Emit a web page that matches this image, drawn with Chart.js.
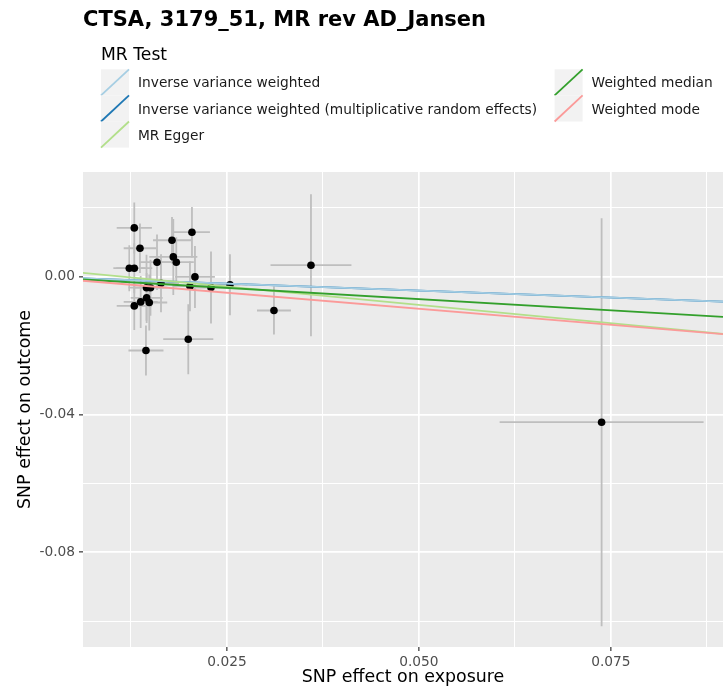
<!DOCTYPE html>
<html>
<head>
<meta charset="utf-8">
<script src="https://cdn.jsdelivr.net/npm/chart.js@4.4.0/dist/chart.umd.min.js"></script>
<style>
  html, body { margin: 0; padding: 0; background: #ffffff; }
  #wrap { width: 723px; height: 688px; position: relative; }
</style>
</head>
<body>
<div id="wrap"><canvas id="c" width="723" height="688"></canvas></div>
<script>
// Text
const plotTitle = 'CTSA, 3179_51, MR rev AD_Jansen';
const legendTitle = 'MR Test';
const xAxisTitle = 'SNP effect on exposure';
const yAxisTitle = 'SNP effect on outcome';

// Per-SNP effects and standard errors
const betaExposure = [0.01293, 0.01367, 0.01228, 0.01293, 0.01589, 0.01784, 0.01801, 0.01840, 0.02044, 0.02083,
                      0.01452, 0.01504, 0.01641, 0.02018, 0.02292, 0.02539, 0.01454, 0.01376, 0.01488, 0.01293,
                      0.01996, 0.01445, 0.03112, 0.03594, 0.07379];
const seExposure   = [0.00229, 0.00212, 0.00208, 0.00234, 0.00234, 0.00247, 0.00313, 0.00228, 0.00234, 0.00260,
                      0.00234, 0.00221, 0.00234, 0.00221, 0.00260, 0.00228, 0.00208, 0.00221, 0.00234, 0.00229,
                      0.00326, 0.00228, 0.00221, 0.00527, 0.01328];
const betaOutcome  = [0.01417, 0.00827, 0.00247, 0.00247, 0.00421, 0.01059, 0.00575, 0.00421, 0.01292, -0.00006,
                      -0.00319, -0.00319, -0.00189, -0.00276, -0.00313, -0.00232, -0.00615, -0.00731, -0.00749, -0.00848,
                      -0.01814, -0.02142, -0.00981, 0.00334, -0.04224];
const seOutcome    = [0.00740, 0.00717, 0.00668, 0.00726, 0.00804, 0.00676, 0.01103, 0.00726, 0.00734, 0.00900,
                      0.00958, 0.00813, 0.00842, 0.00726, 0.01045, 0.00885, 0.00726, 0.00755, 0.00813, 0.00697,
                      0.01016, 0.00726, 0.00697, 0.02061, 0.05922];

// MR method fits (outcome = intercept + slope * exposure)
const methodNames = ['Inverse variance weighted',
                     'Inverse variance weighted (multiplicative random effects)',
                     'MR Egger', 'Weighted median', 'Weighted mode'];
const methodColors = ['#A6CEE3', '#1F78B4', '#B2DF8A', '#33A02C', '#FB9A99'];
const methodIntercepts = [0, 0, 0.00244, 0, 0];
const methodSlopes = [-0.0804, -0.0804, -0.2123, -0.1302, -0.1863];
const methodDrawOrder = [3, 4, 2, 1, 0];

// Axes
const xRange = [0.00625, 0.0896];
const yRange = [-0.1075, 0.0304];
const xGridValues = [0.0125, 0.025, 0.0375, 0.05, 0.0625, 0.075, 0.0875];
const xTickValues = [0.025, 0.05, 0.075];
const xTickLabels = ['0.025', '0.050', '0.075'];
const yGridValues = [0.02, 0, -0.02, -0.04, -0.06, -0.08, -0.10];
const yTickValues = [0, -0.04, -0.08];
const yTickLabels = ['0.00', '-0.04', '-0.08'];

const FONT = "'DejaVu Sans', sans-serif";

function labelFor(values, labels, v) {
  const k = values.findIndex(t => Math.abs(t - v) < 1e-9);
  return k < 0 ? '' : labels[k];
}
function isMajor(values, v) {
  return values.some(t => Math.abs(t - v) < 1e-9);
}

const panelBackground = {
  id: 'panelBackground',
  beforeDraw(chart) {
    const { ctx, chartArea: a } = chart;
    ctx.save();
    ctx.fillStyle = '#EBEBEB';
    ctx.fillRect(a.left, a.top, a.right - a.left, a.bottom - a.top);
    ctx.restore();
  }
};

const errorBars = {
  id: 'errorBars',
  beforeDatasetsDraw(chart) {
    const { ctx, chartArea: a, scales: { x, y } } = chart;
    ctx.save();
    ctx.beginPath();
    ctx.rect(a.left, a.top, a.right - a.left, a.bottom - a.top);
    ctx.clip();
    ctx.strokeStyle = '#BEBEBE';
    ctx.lineWidth = 1.8;
    betaExposure.forEach((bx, i) => {
      const by = betaOutcome[i];
      const px = x.getPixelForValue(bx);
      const py = y.getPixelForValue(by);
      ctx.beginPath();
      ctx.moveTo(x.getPixelForValue(bx - seExposure[i]), py);
      ctx.lineTo(x.getPixelForValue(bx + seExposure[i]), py);
      ctx.moveTo(px, y.getPixelForValue(by - seOutcome[i]));
      ctx.lineTo(px, y.getPixelForValue(by + seOutcome[i]));
      ctx.stroke();
    });
    ctx.restore();
  }
};

const titleAndLegend = {
  id: 'titleAndLegend',
  afterDraw(chart) {
    const { ctx, chartArea: a } = chart;
    ctx.save();
    ctx.textAlign = 'left';
    ctx.textBaseline = 'alphabetic';

    // plot title
    ctx.fillStyle = '#000000';
    ctx.font = 'bold 21px ' + FONT;
    ctx.fillText(plotTitle, a.left, 26);

    // legend title
    ctx.font = '17.2px ' + FONT;
    ctx.fillText(legendTitle, 101, 60);

    // legend entries, filled column by column
    const keyW = 28, keyH = 26.1, top = 69.3;
    const cols = [{ x: 101, items: [0, 1, 2] }, { x: 554.6, items: [3, 4] }];
    ctx.font = '13.75px ' + FONT;
    cols.forEach(col => {
      col.items.forEach((m, r) => {
        const kx = col.x, ky = top + r * keyH;
        ctx.fillStyle = '#F2F2F2';
        ctx.fillRect(kx, ky, keyW, keyH);
        ctx.strokeStyle = methodColors[m];
        ctx.lineWidth = 1.8;
        ctx.beginPath();
        ctx.moveTo(kx, ky + keyH);
        ctx.lineTo(kx + keyW, ky);
        ctx.stroke();
        ctx.fillStyle = '#1A1A1A';
        ctx.fillText(methodNames[m], kx + keyW + 9, ky + 18.1);
      });
    });
    ctx.restore();
  }
};

const lineDatasets = methodNames.map((name, m) => ({
  type: 'scatter',
  label: name,
  showLine: true,
  data: xRange.map(xv => ({ x: xv, y: methodIntercepts[m] + methodSlopes[m] * xv })),
  borderColor: methodColors[m],
  backgroundColor: methodColors[m],
  borderWidth: 1.8,
  pointRadius: 0,
  order: methodDrawOrder[m]
}));

const pointDataset = {
  type: 'scatter',
  label: 'SNPs',
  data: betaExposure.map((bx, i) => ({ x: bx, y: betaOutcome[i] })),
  backgroundColor: '#000000',
  borderWidth: 0,
  pointRadius: 3.8,
  order: 10
};

new Chart(document.getElementById('c'), {
  type: 'scatter',
  data: { datasets: [...lineDatasets, pointDataset] },
  plugins: [panelBackground, errorBars, titleAndLegend],
  options: {
    responsive: false,
    animation: false,
    events: [],
    devicePixelRatio: 1,
    layout: { autoPadding: false, padding: { top: 172, left: 0, right: 0, bottom: 0 } },
    plugins: { legend: { display: false }, tooltip: { enabled: false }, title: { display: false } },
    scales: {
      x: {
        type: 'linear',
        position: 'bottom',
        min: xRange[0],
        max: xRange[1],
        afterBuildTicks: s => { s.ticks = xGridValues.map(v => ({ value: v })); },
        afterFit: s => { s.height = 41; },
        border: { display: false },
        grid: {
          color: '#FFFFFF',
          lineWidth: c => isMajor(xTickValues, c.tick.value) ? 1.7 : 1.0,
          drawTicks: true,
          tickLength: 4,
          tickWidth: 1.2,
          tickColor: c => isMajor(xTickValues, c.tick.value) ? '#333333' : 'rgba(0,0,0,0)'
        },
        ticks: {
          autoSkip: false,
          maxRotation: 0,
          minRotation: 0,
          padding: 3,
          color: '#4D4D4D',
          font: { family: FONT, size: 13.75 },
          callback: v => labelFor(xTickValues, xTickLabels, v)
        },
        title: {
          display: true,
          text: xAxisTitle,
          color: '#000000',
          font: { family: FONT, size: 17.4 },
          padding: { top: 0, bottom: 0 }
        }
      },
      y: {
        type: 'linear',
        position: 'left',
        min: yRange[0],
        max: yRange[1],
        afterBuildTicks: s => { s.ticks = yGridValues.map(v => ({ value: v })); },
        afterFit: s => { s.width = 83; },
        border: { display: false },
        grid: {
          color: '#FFFFFF',
          lineWidth: c => isMajor(yTickValues, c.tick.value) ? 1.7 : 1.0,
          drawTicks: true,
          tickLength: 4,
          tickWidth: 1.2,
          tickColor: c => isMajor(yTickValues, c.tick.value) ? '#333333' : 'rgba(0,0,0,0)'
        },
        ticks: {
          autoSkip: false,
          padding: 4,
          color: '#4D4D4D',
          font: { family: FONT, size: 13.75 },
          callback: v => labelFor(yTickValues, yTickLabels, v)
        },
        title: {
          display: true,
          text: yAxisTitle,
          color: '#000000',
          font: { family: FONT, size: 17.4 },
          padding: { top: 15, bottom: 0 }
        }
      }
    }
  }
});
</script>
</body>
</html>
